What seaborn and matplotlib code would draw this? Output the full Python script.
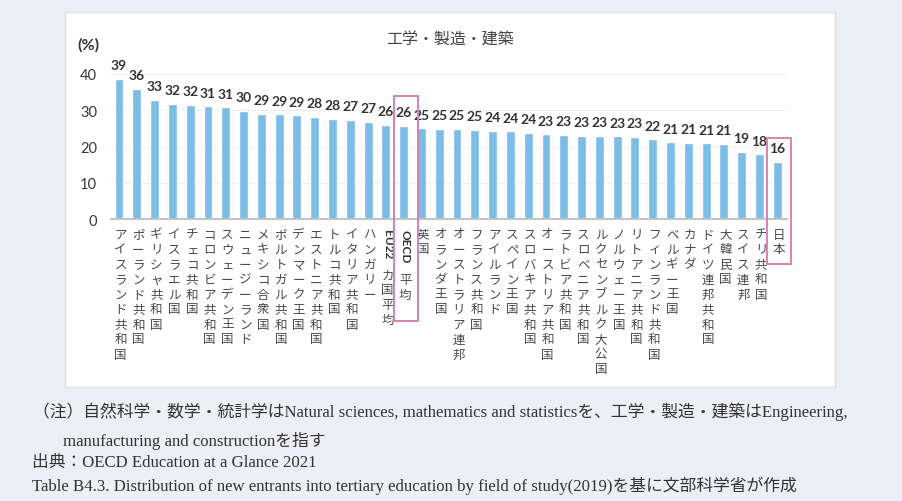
import numpy as np
import pandas as pd
import matplotlib
matplotlib.use("Agg")
import matplotlib.pyplot as plt
import matplotlib.transforms as mtransforms
from matplotlib.patches import Rectangle
import seaborn as sns

# ---------------- data ----------------
countries = [
    "アイスランド共和国", "ポーランド共和国", "ギリシャ共和国", "イスラエル国", "チェコ共和国",
    "コロンビア共和国", "スウェーデン王国", "ニュージーランド", "メキシコ合衆国", "ポルトガル共和国",
    "デンマーク王国", "エストニア共和国", "トルコ共和国", "イタリア共和国", "ハンガリー",
    "EU22カ国平均", "OECD平均", "英国", "オランダ王国", "オーストラリア連邦",
    "フランス共和国", "アイルランド", "スペイン王国", "スロバキア共和国", "オーストリア共和国",
    "ラトビア共和国", "スロベニア共和国", "ルクセンブルク大公国", "ノルウェー王国", "リトアニア共和国",
    "フィンランド共和国", "ベルギー王国", "カナダ", "ドイツ連邦共和国", "大韓民国",
    "スイス連邦", "チリ共和国", "日本",
]
values = [
    38.6, 35.9, 32.8, 31.7, 31.5,
    31.1, 30.8, 29.8, 29.1, 28.9,
    28.6, 28.1, 27.7, 27.3, 26.8,
    26.0, 25.7, 25.0, 24.8, 24.8,
    24.6, 24.4, 24.2, 23.8, 23.4,
    23.2, 23.0, 22.9, 22.8, 22.6,
    22.0, 21.2, 21.0, 20.9, 20.8,
    18.6, 17.8, 15.8,
]
highlighted = ["OECD平均", "日本"]
title = "工学・製造・建築"
y_unit = "(%)"
yticks = [0, 10, 20, 30, 40]
notes = [
    "（注）自然科学・数学・統計学はNatural sciences, mathematics and statisticsを、工学・製造・建築はEngineering,",
    "manufacturing and constructionを指す",
    "出典：OECD Education at a Glance 2021",
    "Table B4.3. Distribution of new entrants into tertiary education by field of study(2019)を基に文部科学省が作成",
]

# ---------------- style ----------------
sns.set_theme(style="white")
plt.rcParams["font.family"] = ["Lato", "Noto Sans CJK JP", "DejaVu Sans"]

W, H = 903, 502
fig = plt.figure(figsize=(W / 100, H / 100), dpi=100, facecolor="#ebeff6")

def fx(px):
    return px / W

def fy(py):
    return 1 - py / H

# white panel (behind everything)
fig.patches.append(Rectangle((fx(65), fy(388)), fx(835) - fx(65), fy(13) - fy(388),
                             transform=fig.transFigure, facecolor="white",
                             edgecolor="#e0dfe4", lw=1.0, zorder=-10))

ax = fig.add_axes([fx(111), fy(220), fx(787) - fx(111), fy(220 - 45 * 3.625) - fy(220)])
ax.set_zorder(1)
ax.set_facecolor("none")

df = pd.DataFrame({"country": countries, "value": values})
sns.barplot(data=df, x="country", y="value", color="#7bbde7", saturation=1,
            width=0.5, errorbar=None, ax=ax, zorder=2)

n = len(countries)
ax.set_xlim(-0.45, n - 1 + 0.55)
ax.set_ylim(0, 45)
ax.set_xlabel("")
ax.set_ylabel("")
ax.set_yticks(yticks)
ax.set_yticklabels([str(t) for t in yticks], fontsize=10.5, color="#383838")
ax.set_xticks(range(n))
ax.set_xticklabels([""] * n)
ax.tick_params(axis="both", length=0)
ax.tick_params(axis="y", pad=10)
ax.yaxis.grid(True, color="#eeeeee", lw=0.8)
ax.set_axisbelow(True)
for s in ["left", "right", "top"]:
    ax.spines[s].set_visible(False)
ax.spines["bottom"].set_color("#c4c4c4")
ax.spines["bottom"].set_linewidth(1.5)

# value labels
labels = [str(int(np.floor(v + 0.5))) for v in values]
ax.bar_label(ax.containers[0], labels=labels, padding=5.5, fontsize=10,
             fontweight="bold", color="#333333", family=["Lato"])

# vertical category labels
renderer = fig.canvas.get_renderer()
trans = mtransforms.blended_transform_factory(ax.transData, ax.transAxes)
pitch = 10.8  # points per stacked character
for i, name in enumerate(countries):
    j = 0
    while j < len(name) and ord(name[j]) < 128:
        j += 1
    prefix, rest = name[:j], name[j:]
    start = 10.8
    if prefix:
        off = mtransforms.ScaledTranslation(1.0 / 72, -7.2 / 72, fig.dpi_scale_trans)
        t = ax.text(i, 0, prefix, transform=trans + off, rotation=270, ha="center", va="top",
                    fontsize=8.5, fontweight="bold", color="#333333", family=["Lato"])
        length_pt = t.get_window_extent(renderer).height * 72 / fig.dpi
        start = 7.2 + length_pt + 12.0
    for k, ch in enumerate(rest):
        off = mtransforms.ScaledTranslation(1.2 / 72, -(start + k * pitch) / 72, fig.dpi_scale_trans)
        ax.text(i, 0, ch, transform=trans + off, ha="center", va="center",
                fontsize=9, color="#4a4a4a", family=["Noto Sans CJK JP"])

# highlight boxes (above bar top, below axis in data units)
box_extent = {"OECD平均": (8.2, 28.1), "日本": (6.5, 12.4)}
for name in highlighted:
    i = countries.index(name)
    up, down = box_extent[name]
    top = values[i] + up
    ax.add_patch(Rectangle((i - 0.55, -down), 1.35, top + down, fill=False,
                           edgecolor="#d483b2", lw=1.4, clip_on=False, zorder=5))

# titles
fig.text(fx(450), fy(40), title, ha="center", va="center", fontsize=11.5,
         color="#444444", family=["Noto Sans CJK JP"])
fig.text(fx(88), fy(45), y_unit, ha="center", va="center", fontsize=11.5,
         fontweight="bold", color="#333333", family=["Lato"])

# notes
note_fam = ["Liberation Serif", "Noto Sans CJK JP"]
note_pos = [(33, 412), (63, 441), (32, 463), (32, 486)]
for (px, py), t in zip(note_pos, notes):
    fig.text(fx(px), fy(py), t, ha="left", va="center", fontsize=12.1,
             color="#333333", family=note_fam)

fig.savefig("out.png", dpi=100, facecolor=fig.get_facecolor())
